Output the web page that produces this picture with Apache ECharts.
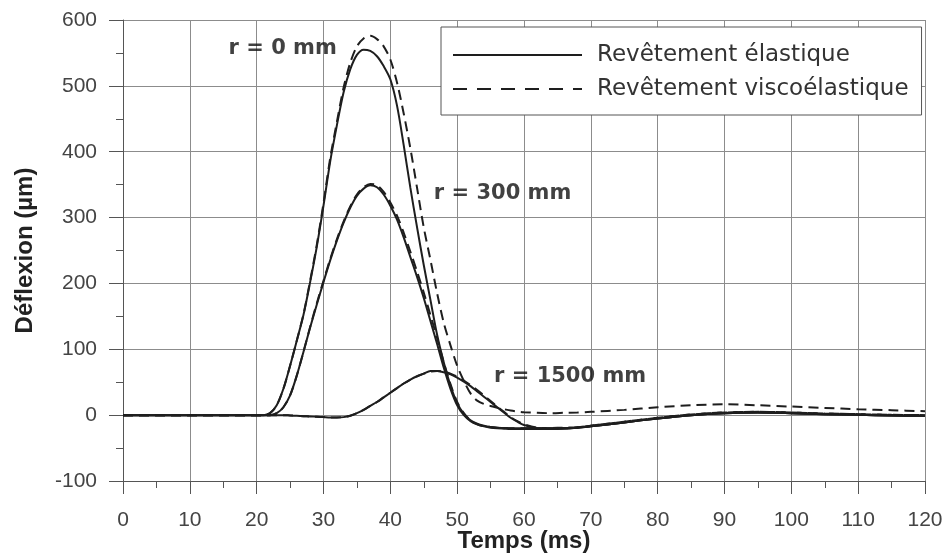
<!DOCTYPE html>
<html>
<head>
<meta charset="utf-8">
<script src="https://cdn.jsdelivr.net/npm/echarts@6/dist/echarts.min.js"></script>
<style>
html,body{margin:0;padding:0;background:#fff;}
#chart{width:948px;height:560px;}
</style>
</head>
<body>
<div id="chart"></div>
<script>
// Time (ms)
const T = [0,5,10,15,20, 21,22,23,24,25,26,27,28,29,30, 31,32,33,34,35,36,37,38,39,40,
  41,42,43,44,45,46,47,48,49,50, 51,52,53,54,55,56,57,58,59,60, 62,64,66,68,70,
  75,80,85,90,95,100,105,110,115,120];

// Revêtement élastique (solid)
const elastR0 = [0,0,0,0,0, 0,3,15,40,75,113,152,202,256,318, 385,440,490,525,547,555,553,545,530,510,
  470,410,345,285,228,175,122,80,45,18, 2,-8,-13,-16,-18,-19,-19.5,-20,-20,-20, -20,-20,-19.5,-19,-17,
  -11,-5,0,3,4,3,1.5,0.5,-0.5,-1];
const elastR300 = [0,0,0,0,0, 0,0,3,12,30,60,96,133,168,202, 235,265,292,315,333,344,349,346,335,318,
  297,270,240,210,178,143,108,72,40,15, 0,-9,-14,-17,-19,-20,-20.5,-21,-21,-21, -21,-20.5,-20,-19,-17,
  -11,-5,0,3,4,3,1.5,0.5,-0.5,-1];
const elastR1500 = [0,0,0,0,0, 0,0,0,0,-0.5,-1,-1.5,-2,-2.5,-3, -3.5,-3.5,-3,-1,3,8,14,20,27,34,
  41,48,54,59,63,67,67,65,62,57, 51,44,36,28,20,12,4,-4,-10,-15, -20,-21,-20.5,-19,-17,
  -11,-5,0,3,4,3,1.5,0.5,-0.5,-1];

// Revêtement viscoélastique (dashed)
const viscoR0 = [0,0,0,0,0, 0,3,15,40,75,113,153,204,259,322, 390,445,497,535,560,572,576,571,560,540,
  505,458,405,345,285,236,185,140,106,75, 52,33,22,17,14,11,9,7,5.5,4.5, 3.5,3,3.5,4,5,
  8,12,15,16.5,15,13,11,9,7.5,6];
const viscoR300 = [0,0,0,0,0, 0,0,3,12,30,60,96,134,170,204, 237,267,294,317,335,346,351,349,339,323,
  303,277,248,218,186,152,117,80,47,20, 3,-8,-14,-17,-18,-19,-19.5,-20,-20,-20, -20,-19.5,-19,-18.5,-16,
  -10,-4,1,4,5,4,2.5,1.5,0.5,0];
const viscoR1500 = [0,0,0,0,0, 0,0,0,0,-0.5,-1,-1.5,-2,-2.5,-3, -3.5,-3.5,-3,-1,3,8,14,20,27,34,
  41,48,54,59,63,66,67,66,63,58.5, 52.5,45.5,38,30,21.5,13,5,-3,-9,-14, -19,-20,-20,-18.5,-16,
  -10,-4,1,4,5,4,2.5,1.5,0.5,0];

// Annotations
const annotLabels = ['r = 0 mm', 'r = 300 mm', 'r = 1500 mm'];
const annotT = [23.9, 56.8, 66.9];
const annotV = [557, 337, 58];

const NAME_E = 'Revêtement élastique';
const NAME_V = 'Revêtement viscoélastique';

const pairs = arr => T.map((t, i) => [t, arr[i]]);
const lineCol = '#1e1e1e';
function mk(name, arr, dashed) {
  return {
    name: name, type: 'line', data: pairs(arr), symbol: 'none', smooth: 0.3,
    lineStyle: { color: lineCol, width: 2, type: dashed ? [10, 6] : 'solid' },
    itemStyle: { color: lineCol },
    z: dashed ? 4 : 3
  };
}

const chart = echarts.init(document.getElementById('chart'), null, { renderer: 'canvas' });
const gridCol = '#8c8c8c';
chart.setOption({
  animation: false,
  backgroundColor: '#fff',
  grid: { left: 123, top: 20, width: 802, height: 461, containLabel: false, outerBoundsMode: 'none' },
  legend: {
    orient: 'vertical', left: 441, top: 27,
    data: [
      { name: NAME_E, lineStyle: { type: 'solid', width: 2, color: lineCol } },
      { name: NAME_V, lineStyle: { type: [14, 10], width: 2, color: lineCol } }
    ],
    itemWidth: 129, itemHeight: 14, itemGap: 6,
    itemStyle: { opacity: 0, borderWidth: 0 },
    padding: [14, 13, 12, 11],
    backgroundColor: '#fff', borderColor: '#555', borderWidth: 1, borderRadius: 0,
    textStyle: { fontFamily: 'DejaVu Sans', fontSize: 23, color: '#333', lineHeight: 28, padding: [0, 0, 0, 10] },
    selectedMode: false
  },
  xAxis: {
    type: 'value', min: 0, max: 120, interval: 10,
    name: 'Temps (ms)', nameLocation: 'middle', nameGap: 48, nameMoveOverlap: false,
    nameTextStyle: { fontFamily: 'Liberation Sans', fontWeight: 'bold', fontSize: 24, color: '#222' },
    axisLine: { show: true, onZero: false, lineStyle: { color: '#555', width: 1 } },
    axisTick: { show: true, inside: false, length: 13, lineStyle: { color: '#555' } },
    minorTick: { show: true, splitNumber: 2, length: 7, lineStyle: { color: '#555' } },
    axisLabel: { fontFamily: 'Liberation Sans', fontSize: 21, color: '#444', margin: 29 },
    splitLine: { show: true, lineStyle: { color: gridCol, width: 1 } }
  },
  yAxis: {
    type: 'value', min: -100, max: 600, interval: 100,
    name: 'Déflexion (µm)', nameLocation: 'middle', nameGap: 86, nameRotate: 90, nameMoveOverlap: false,
    nameTextStyle: { fontFamily: 'Liberation Sans', fontWeight: 'bold', fontSize: 24, color: '#222' },
    axisLine: { show: true, onZero: false, lineStyle: { color: '#555', width: 1 } },
    axisTick: { show: true, inside: false, length: 14, lineStyle: { color: '#555' } },
    minorTick: { show: true, splitNumber: 2, length: 7, lineStyle: { color: '#555' } },
    axisLabel: { fontFamily: 'Liberation Sans', fontSize: 21, color: '#444', margin: 26 },
    splitLine: { show: true, lineStyle: { color: gridCol, width: 1 } }
  },
  series: [
    mk(NAME_E, elastR0, false),
    mk(NAME_E, elastR300, false),
    mk(NAME_E, elastR1500, false),
    mk(NAME_V, viscoR0, true),
    mk(NAME_V, viscoR300, true),
    mk(NAME_V, viscoR1500, true),
    {
      name: 'annotations', type: 'scatter', symbolSize: 1,
      itemStyle: { color: 'rgba(0,0,0,0)' },
      data: annotT.map((t, i) => [t, annotV[i]]),
      label: {
        show: true, position: 'inside',
        formatter: p => annotLabels[p.dataIndex],
        fontFamily: 'DejaVu Sans', fontWeight: 'bold', fontSize: 21, color: '#111'
      },
      z: 6
    }
  ]
});
</script>
</body>
</html>
